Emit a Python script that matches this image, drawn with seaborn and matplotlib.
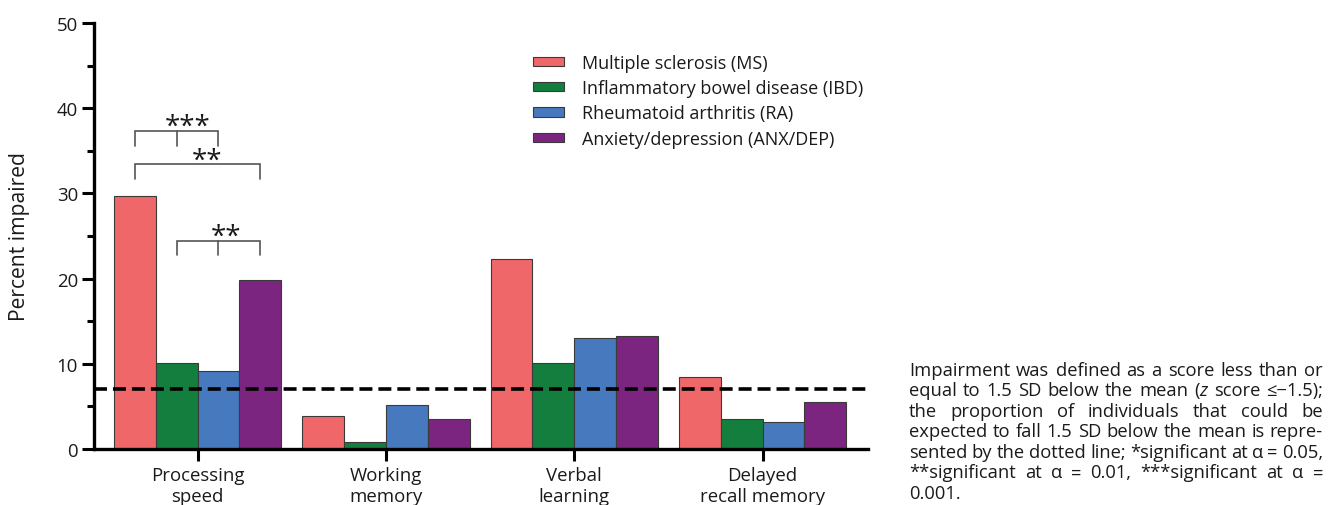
import matplotlib
matplotlib.use("Agg")
import matplotlib.pyplot as plt
import seaborn as sns
import pandas as pd
from matplotlib.ticker import MultipleLocator

# ---------------- data ----------------
categories = ["Processing\nspeed", "Working\nmemory", "Verbal\nlearning", "Delayed\nrecall memory"]
groups = ["Multiple sclerosis (MS)", "Inflammatory bowel disease (IBD)",
          "Rheumatoid arthritis (RA)", "Anxiety/depression (ANX/DEP)"]
ms_values = [29.7, 3.9, 22.3, 8.5]
ibd_values = [10.1, 0.8, 10.1, 3.5]
ra_values = [9.1, 5.2, 13.0, 3.2]
anx_values = [19.8, 3.5, 13.3, 5.5]
threshold = 7.0
yticks = [0, 10, 20, 30, 40, 50]
colors = ["#F0676A", "#147E3E", "#4679BE", "#7B2580"]

# significance brackets: (first group idx, last group idx, middle idx or None, top y, leg y, label, label x)
brackets = [
    (0, 2, 1, 37.3, 35.6, "***", -0.053),
    (0, 3, None, 33.4, 31.7, "**", 0.048),
    (1, 3, 2, 24.4, 22.8, "**", 0.149),
]

note_lines = [
    [["Impairment"], ["was"], ["defined"], ["as"], ["a"], ["score"], ["less"], ["than"], ["or"]],
    [["equal"], ["to"], ["1.5"], ["SD"], ["below"], ["the"], ["mean"], ["(", ("z", "italic")], ["score"], ["≤−1.5);"]],
    [["the"], ["proportion"], ["of"], ["individuals"], ["that"], ["could"], ["be"]],
    [["expected"], ["to"], ["fall"], ["1.5"], ["SD"], ["below"], ["the"], ["mean"], ["is"], ["repre-"]],
    [["sented"], ["by"], ["the"], ["dotted"], ["line;"], ["*significant"], ["at"], ["α"], ["="], ["0.05,"]],
    [["**significant"], ["at"], ["α"], ["="], ["0.01,"], ["***significant"], ["at"], ["α"], ["="]],
    [["0.001."]],
]

# ---------------- style ----------------
sns.set_theme(style="ticks")
plt.rcParams["font.family"] = ["Open Sans", "DejaVu Sans"]
plt.rcParams["text.color"] = "#1a1a1a"

rows = []
for g, vals in zip(groups, [ms_values, ibd_values, ra_values, anx_values]):
    for c, v in zip(categories, vals):
        rows.append({"category": c, "group": g, "value": v})
df = pd.DataFrame(rows)

W, H = 1337, 506
fig = plt.figure(figsize=(W / 100, H / 100), dpi=100)
fig.patch.set_facecolor("white")
ax = fig.add_axes([94 / W, 1 - 450 / H, (868 - 94) / W, (450 - 24) / H])

bar_width = 0.888
sns.barplot(data=df, x="category", y="value", hue="group", order=categories,
            hue_order=groups, palette=colors, width=bar_width, saturation=1,
            edgecolor="#3a3a3a", linewidth=0.8, errorbar=None, ax=ax)

ax.set_xlim(-0.55, 3.56)
ax.set_ylim(0, 50)
ax.set_yticks(yticks)
ax.yaxis.set_minor_locator(MultipleLocator(5))
ax.set_xlabel("")
ax.set_ylabel("Percent impaired", fontsize=15.2, labelpad=19, color="#1a1a1a")
sns.despine(ax=ax)
for s in ["left", "bottom"]:
    ax.spines[s].set_linewidth(2.4)
    ax.spines[s].set_color("black")
ax.tick_params(axis="both", which="major", length=8.5, width=2.2, color="black",
               labelsize=13.4, labelcolor="#1a1a1a", pad=3)
ax.tick_params(axis="x", which="major", pad=4)
ax.tick_params(axis="y", which="minor", length=5, width=2.2, color="black")
ax.tick_params(axis="x", which="minor", length=0)
for lbl in ax.get_xticklabels():
    lbl.set_linespacing(1.22)

# dashed threshold line
ax.axhline(threshold, color="black", lw=2.6, ls=(0, (3.6, 1.65)), zorder=5)

# significance brackets
n = len(groups)
def center(cat, gi):
    return cat + (gi - (n - 1) / 2) * bar_width / n

for a, b, m, top, leg, label, lx in brackets:
    xa, xb = center(0, a), center(0, b)
    ax.plot([xa, xa, xb, xb], [leg, top, top, leg], color="#555555", lw=1.2,
            solid_joinstyle="miter", zorder=4)
    if m is not None:
        xm = center(0, m)
        ax.plot([xm, xm], [top, leg], color="#555555", lw=1.2, zorder=4)
    ax.text(lx, top - 0.35, label, ha="center", va="baseline", fontsize=20,
            color="#1a1a1a")

# legend
handles, labels = ax.get_legend_handles_labels()
ax.legend(handles, labels, loc="upper left", bbox_to_anchor=(533 / W, 1 - 55 / H),
          bbox_transform=fig.transFigure, frameon=False, fontsize=13,
          handlelength=1.72, handleheight=0.42, handletextpad=1.0,
          labelspacing=0.4, borderpad=0, borderaxespad=0)

# justified note text
renderer = fig.canvas.get_renderer()
fs_note = 13.2
x0, x1 = 909, 1323
for i, line in enumerate(note_lines):
    y = 1 - (371 + 20.5 * i) / H
    word_objs = []
    word_w = []
    for word in line:
        parts = []
        wsum = 0
        for p in word:
            if isinstance(p, tuple):
                txt, style = p
            else:
                txt, style = p, "normal"
            t = fig.text(0, y, txt, fontsize=fs_note, va="center", ha="left",
                         style=style, color="#1a1a1a")
            pw = t.get_window_extent(renderer).width
            parts.append((t, pw))
            wsum += pw
        word_objs.append(parts)
        word_w.append(wsum)
    if i < len(note_lines) - 1 and len(line) > 1:
        gap = (x1 - x0 - sum(word_w)) / (len(line) - 1)
    else:
        gap = 5
    x = x0
    for parts, ww in zip(word_objs, word_w):
        xx = x
        for t, pw in parts:
            t.set_x(xx / W)
            xx += pw
        x += ww + gap

fig.savefig("out.png", dpi=100, facecolor="white")
